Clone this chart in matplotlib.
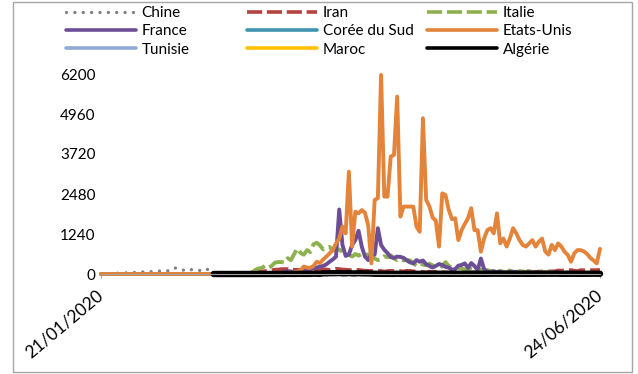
import matplotlib
matplotlib.use("Agg")
import matplotlib.pyplot as plt
import pandas as pd
from matplotlib.lines import Line2D
from matplotlib.patches import Rectangle

plt.rcParams['font.family'] = ['Lato', 'DejaVu Sans']

dates = pd.date_range('2020-01-21', '2020-06-24')

# morts par jour (lecture du graphique)
chine = [3, 0, 8, 16, 15, 24, 26, 26, 38, 43,
         46, 45, 57, 64, 66, 73, 73, 86, 89, 97,
         108, 97, 146, 190, 143, 142, 105, 98, 136, 114,
         118, 109, 97, 150, 71, 52, 29, 44, 47, 35,
         42, 31, 38, 31, 30, 28, 27, 22, 17, 22,
         11, 7, 13, 10, 14, 13, 11, 8, 3, 7,
         6, 9, 7, 4, 6, 5, 3, 5, 4, 4,
         1, 6, 3, 4, 5, 3, 2, 3, 2, 1,
         1, 3, 2, 1, 0, 0, 0, 0, 0, 0,
         0, 0, 0, 0, 0, 0, 0, 0, 0, 0,
         0, 0, 0, 0, 0, 0, 0, 0, 0, 0,
         0, 0, 0, 0, 0, 0, 0, 0, 0, 0,
         0, 0, 0, 0, 0, 0, 0, 0, 0, 0,
         0, 0, 0, 0, 0, 0, 0, 0, 0, 0,
         0, 0, 0, 0, 0, 0, 0, 0, 0, 0,
         0, 0, 0, 0, 0, 0]

iran = [0, 0, 0, 0, 0, 0, 0, 0, 0, 0,
        0, 0, 0, 0, 0, 0, 0, 0, 0, 0,
        0, 0, 0, 0, 0, 0, 0, 0, 0, 2,
        0, 2, 0, 2, 2, 4, 3, 4, 8, 9,
        11, 12, 11, 15, 16, 21, 49, 43, 54, 63,
        75, 85, 97, 113, 129, 135, 147, 149, 149, 123,
        129, 127, 122, 143, 157, 144, 139, 123, 117, 141,
        138, 124, 134, 158, 151, 136, 133, 121, 117, 122,
        125, 111, 98, 94, 92, 89, 87, 92, 73, 88,
        94, 88, 87, 87, 76, 96, 93, 80, 71, 74,
        63, 47, 74, 55, 68, 45, 51, 48, 45, 50,
        35, 34, 34, 51, 35, 34, 58, 50, 62, 56,
        57, 63, 65, 54, 58, 34, 50, 34, 57, 69,
        50, 63, 81, 70, 59, 63, 72, 75, 71, 74,
        81, 78, 107, 100, 115, 113, 120, 100, 87, 116,
        115, 107, 116, 117, 121, 119]

italie = [0, 0, 0, 0, 0, 0, 0, 0, 0, 0,
          0, 0, 0, 0, 0, 0, 0, 0, 0, 0,
          0, 0, 0, 0, 0, 0, 0, 0, 0, 0,
          0, 0, 1, 1, 0, 4, 1, 1, 5, 4,
          8, 5, 18, 27, 28, 41, 49, 36, 133, 170,
          190, 250, 190, 250, 350, 370, 370, 350, 490, 430,
          620, 790, 650, 600, 740, 680, 920, 970, 890, 760,
          810, 840, 730, 770, 760, 680, 620, 600, 540, 620,
          570, 620, 570, 610, 580, 480, 430, 460, 550, 520,
          580, 480, 430, 460, 420, 440, 420, 330, 260, 330,
          290, 270, 320, 270, 200, 190, 240, 370, 250, 200,
          250, 190, 170, 140, 130, 170, 150, 160, 130, 100,
          120, 90, 80, 80, 90, 70, 60, 110, 60, 70,
          90, 80, 60, 90, 60, 70, 50, 70, 60, 60,
          50, 40, 30, 40, 40, 50, 20, 30, 40, 20,
          30, 20, 20, 40, 20, 30]

france = [0, 0, 0, 0, 0, 0, 0, 0, 0, 0,
          0, 0, 0, 0, 0, 0, 0, 0, 0, 0,
          0, 0, 0, 0, 0, 1, 0, 0, 0, 0,
          0, 0, 0, 0, 0, 0, 0, 0, 0, 0,
          0, 1, 1, 0, 3, 2, 1, 9, 11, 3,
          15, 13, 18, 12, 36, 21, 27, 69, 90, 80,
          60, 80, 100, 110, 120, 150, 180, 200, 230, 250,
          300, 380, 450, 540, 2000, 900, 560, 600, 900, 1050,
          1340, 850, 540, 430, 640, 600, 1420, 900, 750, 650,
          520, 500, 540, 530, 500, 420, 360, 330, 430, 380,
          420, 300, 250, 200, 250, 310, 280, 220, 200, 130,
          150, 260, 280, 330, 190, 340, 250, 120, 480, 150,
          70, 60, 90, 50, 80, 40, 30, 60, 70, 50,
          40, 30, 50, 60, 40, 30, 50, 30, 20, 40,
          30, 60, 40, 30, 20, 30, 50, 20, 30, 40,
          20, 20, 30, 10, 20, 30]

coree = [0, 0, 0, 0, 0, 0, 0, 0, 0, 0,
         0, 0, 0, 0, 0, 0, 0, 0, 0, 0,
         0, 0, 0, 0, 0, 0, 0, 0, 0, 0,
         1, 1, 0, 3, 2, 2, 1, 3, 1, 3,
         1, 4, 6, 6, 7, 3, 6, 2, 6, 6,
         6, 6, 6, 6, 3, 0, 6, 3, 9, 5,
         9, 2, 9, 6, 6, 5, 8, 6, 6, 8,
         3, 3, 8, 4, 6, 4, 3, 6, 0, 4,
         3, 2, 3, 3, 0, 3, 2, 2, 0, 4,
         0, 0, 2, 0, 2, 1, 1, 0, 3, 0,
         2, 0, 2, 2, 0, 0, 2, 0, 0, 2,
         0, 0, 0, 1, 0, 2, 0, 0, 1, 0,
         0, 0, 0, 1, 0, 0, 0, 1, 0, 1,
         1, 0, 0, 0, 0, 1, 0, 0, 0, 0,
         1, 0, 0, 0, 1, 0, 0, 1, 0, 1,
         0, 0, 1, 1, 0, 0]

etats_unis = [0, 0, 0, 0, 0, 0, 0, 0, 0, 0,
              0, 0, 0, 0, 0, 0, 0, 0, 0, 0,
              0, 0, 0, 0, 0, 0, 0, 0, 0, 0,
              0, 0, 0, 0, 0, 0, 0, 0, 0, 1,
              0, 1, 4, 1, 3, 1, 2, 3, 3, 4,
              7, 2, 12, 8, 8, 14, 13, 15, 32, 45,
              50, 80, 120, 230, 200, 190, 250, 380, 340, 450,
              540, 640, 740, 950, 1100, 1470, 1260, 3170, 850, 1930,
              1880, 1980, 1900, 1500, 330, 2290, 2350, 6170, 2400, 2400,
              3640, 3690, 5500, 1780, 2090, 2090, 2090, 2090, 1470, 1310,
              4830, 2300, 2100, 1750, 1650, 850, 2500, 2450, 2000, 1700,
              1730, 1050, 1360, 1550, 1730, 2040, 1360, 1360, 690, 1100,
              1360, 1420, 1260, 1880, 950, 1100, 850, 1100, 1420, 1260,
              1050, 900, 850, 950, 1050, 850, 1000, 1100, 700, 600,
              900, 740, 950, 850, 690, 590, 380, 640, 740, 740,
              700, 620, 500, 420, 330, 780]

# séries qui commencent plus tard (premier cas)
tunisie = [0, 0, 0, 0, 0, 0, 0, 0, 0, 0,
           0, 0, 0, 0, 0, 0, 1, 0, 0, 0,
           0, 1, 0, 2, 1, 1, 1, 1, 0, 2,
           2, 3, 1, 1, 2, 1, 2, 0, 1, 2,
           1, 0, 1, 2, 1, 1, 1, 1, 0, 1,
           0, 1, 1, 0, 0, 0, 0, 0, 1, 0,
           0, 0, 0, 0, 0, 0, 0, 0, 0, 0,
           0, 0, 0, 0, 0, 0, 0, 0, 0, 0,
           0, 0, 0, 0, 0, 0, 0, 0, 0, 0,
           0, 0, 0, 0, 0, 0, 0, 0, 0, 0,
           0, 0, 0, 0, 0, 0, 0, 0, 0, 0,
           0, 0, 0, 0, 0]

maroc = [0, 0, 0, 0, 0, 0, 0, 0, 0, 1,
         0, 0, 0, 0, 0, 1, 1, 1, 0, 1,
         1, 1, 4, 2, 1, 4, 3, 3, 4, 5,
         4, 3, 3, 10, 10, 9, 3, 3, 4, 5,
         4, 4, 2, 5, 4, 3, 3, 2, 3, 2,
         1, 4, 3, 3, 2, 2, 2, 2, 2, 1,
         1, 1, 0, 1, 2, 0, 1, 0, 0, 0,
         0, 1, 0, 1, 0, 0, 0, 1, 0, 0,
         0, 0, 1, 1, 0, 0, 1, 0, 0, 0,
         0, 0, 0, 1, 0, 0, 1, 0, 0, 0,
         0, 1, 0, 1, 0, 1, 0, 0, 1, 0,
         0, 1, 0, 0, 1]

algerie = [0, 0, 0, 0, 0, 0, 0, 0, 0, 0,
           0, 0, 0, 0, 0, 1, 0, 1, 0, 0,
           0, 1, 2, 5, 4, 2, 4, 5, 4, 4,
           4, 9, 8, 5, 21, 20, 25, 25, 26, 30,
           21, 20, 30, 19, 18, 26, 20, 18, 18, 13,
           8, 7, 6, 5, 6, 4, 3, 8, 5, 4,
           6, 6, 7, 6, 5, 4, 4, 6, 8, 8,
           9, 7, 8, 6, 7, 8, 8, 6, 8, 8,
           7, 6, 7, 7, 6, 7, 8, 9, 9, 8,
           8, 8, 8, 6, 6, 7, 8, 6, 6, 6,
           7, 8, 8, 8, 9, 8, 9, 8, 6, 6,
           7, 7, 8, 6, 7, 6, 7, 8, 9, 8,
           8]

debut_tunisie = '2020-03-02'
debut_maroc = '2020-03-02'
debut_algerie = '2020-02-25'

yticks = [0, 1240, 2480, 3720, 4960, 6200]

fig = plt.figure(figsize=(6.38, 3.74), dpi=100)
ax = fig.add_axes([101 / 638, 100 / 374, 499 / 638, 200 / 374])

lw = 2.8
dots = dict(linestyle=(0, (0.01, 2.5)), dash_capstyle='round', lw=2.4)
dashes = dict(linestyle=(0, (4.2, 1.3)), dash_capstyle='butt', lw=lw)
series = [
    ('Chine', dates, chine, dict(color='#808080', **dots)),
    ('Iran', dates, iran, dict(color='#B4423F', **dashes)),
    ('Italie', dates, italie, dict(color='#8EB14F', **dashes)),
    ('France', dates, france, dict(color='#6B4E96', lw=lw)),
    ('Corée du Sud', dates, coree, dict(color='#3D93B1', lw=lw)),
    ('Etats-Unis', dates, etats_unis, dict(color='#E3843A', lw=lw)),
    ('Tunisie', dates[dates >= debut_tunisie], tunisie, dict(color='#8FAAD4', lw=lw)),
    ('Maroc', dates[dates >= debut_maroc], maroc, dict(color='#FFC000', lw=lw)),
    ('Algérie', dates[dates >= debut_algerie], algerie, dict(color='black', lw=4.6)),
]

styles = {}
for name, x, y, style in series:
    ax.plot(x, y, solid_capstyle='round', solid_joinstyle='round',
            clip_on=False, label=name, **style)
    styles[name] = style

ax.set_xlim(dates[0], dates[-1])
ax.set_ylim(0, 6200)
ax.set_yticks(yticks)
ax.set_yticklabels([str(v) for v in yticks], fontsize=11)
ax.tick_params(axis='y', length=0, pad=4)

ax.set_xticks([dates[0], dates[-1]])
ax.set_xticklabels([d.strftime('%d/%m/%Y') for d in (dates[0], dates[-1])],
                   rotation=40, ha='right', va='center', rotation_mode='anchor', fontsize=12.5)
ax.tick_params(axis='x', length=3, color='#A0A0A0', pad=11)

for side in ['left', 'right', 'top']:
    ax.spines[side].set_visible(False)
ax.spines['bottom'].set_color('#A0A0A0')

# légende : trois colonnes
cols = [(['Chine', 'France', 'Tunisie'], 66),
        (['Iran', 'Corée du Sud', 'Maroc'], 247),
        (['Italie', 'Etats-Unis', 'Algérie'], 427)]
for names, xpix in cols:
    hs = []
    for n in names:
        st = dict(styles[n])
        st['lw'] = 2.4 if n == 'Chine' else 2.6
        hs.append(Line2D([], [], solid_capstyle='round', **st))
    fig.legend(hs, names, loc='upper left', bbox_to_anchor=(xpix / 638, 1 - 6 / 374),
               frameon=False, fontsize=11, handlelength=4.6, handletextpad=0.35,
               borderpad=0, borderaxespad=0, labelspacing=0.28)

# cadre du graphique
fig.patches.append(Rectangle((13 / 638, 2 / 374), 619 / 638, 370 / 374,
                             transform=fig.transFigure, fill=False,
                             edgecolor='#A6A6A6', lw=1))

fig.savefig('out.png', dpi=100)
